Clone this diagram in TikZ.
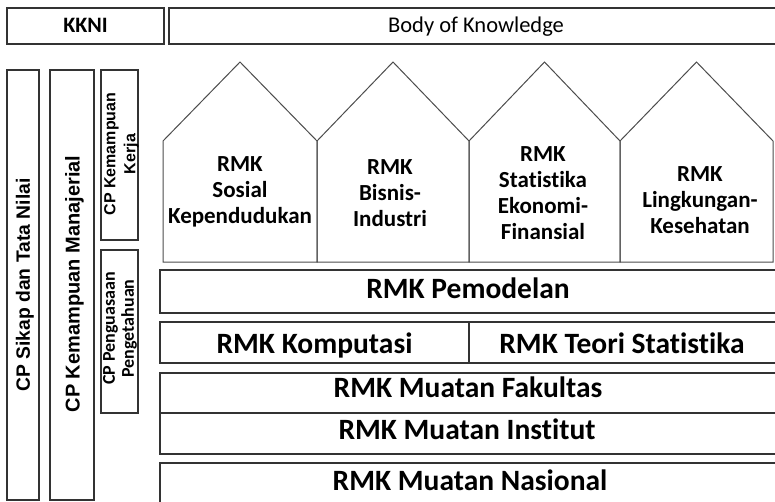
\documentclass[tikz,border=0pt]{standalone}
\usepackage{fontspec}
\setmainfont{Carlito}[Ligatures={NoCommon}]
\newfontfamily\arialfont{Liberation Sans}
\begin{document}
\begin{tikzpicture}[x=1pt,y=-1pt,
  frame/.style={draw=black!80, line width=1.3pt},
  house/.style={draw=black!70, line width=1pt},
  rowtxt/.style={inner sep=0pt, text height=19pt, text depth=0pt, font=\fontsize{29.5}{35}\selectfont\bfseries},
  housetxt/.style={inner sep=0pt, anchor=north, align=center, font=\fontsize{23}{26}\selectfont\bfseries}]
\useasboundingbox (0,0) rectangle (775,501);
\clip (0,0) rectangle (775,501);
% top bar
\draw[frame] (7,8) rectangle (164,44);
\node[inner sep=0pt, text height=14.2pt, text depth=0pt, font=\fontsize{22}{26}\selectfont\bfseries] (kkni) at (85.5,25.5) {KKNI};
\draw[frame] (169,8) rectangle (790,44);
\node[inner sep=0pt, text height=14.5pt, text depth=0pt, font=\fontsize{22.5}{27}\selectfont] (bok) at (476,25.5) {Body of Knowledge};
% vertical CP boxes
\draw[frame] (7,70) rectangle (39,500);
\node[inner sep=0pt, text height=13.8pt, text depth=0pt, rotate=90, font=\arialfont\fontsize{19.3}{23}\selectfont\bfseries] (sikap) at (23,285) {CP Sikap dan Tata Nilai};
\draw[frame] (50,70) rectangle (94,500);
\node[inner sep=0pt, text height=14.3pt, text depth=0pt, rotate=90, font=\arialfont\fontsize{20}{24}\selectfont\bfseries] (manaj) at (72.5,284) {CP Kemampuan Manajerial};
\draw[frame] (101,70) rectangle (138,240);
\node[inner sep=0pt, rotate=90, align=center, font=\arialfont\fontsize{16}{20}\selectfont\bfseries] (kerja) at (121.5,154) {CP Kemampuan\\Kerja};
\draw[frame] (101,250) rectangle (138,413);
\node[inner sep=0pt, rotate=90, align=center, font=\fontsize{18}{19}\selectfont\bfseries] (peng) at (120,328.5) {CP Penguasaan\\Pengetahuan};
% houses
\draw[house] (163,262) -- (163,141) -- (240,62) -- (317,141) -- (317,262) -- cycle;
\draw[house] (317,262) -- (317,141) -- (393,62) -- (469,141) -- (469,262) -- cycle;
\draw[house] (469,262) -- (469,141) -- (544.5,62) -- (620,141) -- (620,262) -- cycle;
\draw[house] (620,262) -- (620,141) -- (696.5,62) -- (773,141) -- (773,262) -- cycle;
\node[housetxt] (h1) at (240,156) {RMK\\Sosial\\Kependudukan};
\node[housetxt] (h2) at (390,159) {RMK\\Bisnis-\\Industri};
\node[housetxt] (h3) at (543,146) {RMK\\Statistika\\Ekonomi-\\Finansial};
\node[housetxt] (h4) at (700,166) {RMK\\Lingkungan-\\Kesehatan};
% rows
\draw[frame] (160,270) rectangle (790,313);
\node[rowtxt] (pem) at (468,289) {RMK Pemodelan};
\draw[frame] (160,322) rectangle (790,363);
\draw[frame] (469,322) -- (469,363);
\node[rowtxt] (komp) at (314.5,343.5) {RMK Komputasi};
\node[rowtxt] (teori) at (622,343.5) {RMK Teori Statistika};
\draw[frame] (160,373) rectangle (790,413);
\node[rowtxt] (fak) at (468,388) {RMK Muatan Fakultas};
\draw[frame] (160,413) rectangle (790,454);
\node[rowtxt] (inst) at (467,430) {RMK Muatan Institut};
\draw[frame] (160,463) rectangle (790,520);
\node[rowtxt] (nas) at (470,481) {RMK Muatan Nasional};
\end{tikzpicture}
\end{document}
